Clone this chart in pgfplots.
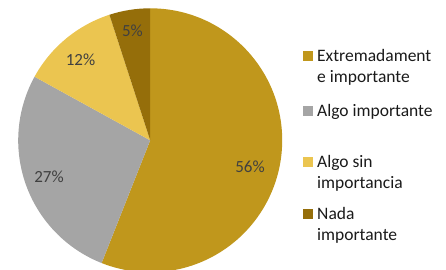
\documentclass[border=0pt]{standalone}
\usepackage{pgfplots}
\pgfplotsset{compat=1.18}
\usepackage{pgfplotstable}
\usepackage{fontspec}
\setmainfont{Carlito}
\definecolor{cGold}{HTML}{C0971C}
\definecolor{cGrey}{HTML}{A5A5A5}
\definecolor{cYellow}{HTML}{EBC550}
\definecolor{cDark}{HTML}{956E0A}
\definecolor{lblText}{HTML}{404040}
\definecolor{legText}{HTML}{1A1A1A}
\pgfplotstableread{
cat value
1 56
2 27
3 12
4 5
}\piedata
\begin{document}
\begin{tikzpicture}
\pgfplotstablegetelem{0}{value}\of\piedata\pgfmathsetmacro\vA{\pgfplotsretval}
\pgfplotstablegetelem{1}{value}\of\piedata\pgfmathsetmacro\vB{\pgfplotsretval}
\pgfplotstablegetelem{2}{value}\of\piedata\pgfmathsetmacro\vC{\pgfplotsretval}
\pgfplotstablegetelem{3}{value}\of\piedata\pgfmathsetmacro\vD{\pgfplotsretval}
\pgfmathsetmacro\aO{90}
\pgfmathsetmacro\aA{90-3.6*\vA}
\pgfmathsetmacro\aB{\aA-3.6*\vB}
\pgfmathsetmacro\aC{\aB-3.6*\vC}
\pgfmathsetmacro\aD{\aC-3.6*\vD}
\begin{axis}[at={(0,0)},anchor=south west,width=446pt,height=269pt,scale only axis,
  xmin=0,xmax=446,ymin=0,ymax=269,hide axis,clip=true]
\fill[cGold] (axis cs:150.2,128.7) -- ++(\aO:132pt) arc[start angle=\aO,end angle=\aA,radius=132pt] -- cycle;
\fill[cGrey] (axis cs:150.2,128.7) -- ++(\aA:132pt) arc[start angle=\aA,end angle=\aB,radius=132pt] -- cycle;
\fill[cYellow] (axis cs:150.2,128.7) -- ++(\aB:132pt) arc[start angle=\aB,end angle=\aC,radius=132pt] -- cycle;
\fill[cDark] (axis cs:150.2,128.7) -- ++(\aC:132pt) arc[start angle=\aC,end angle=\aD,radius=132pt] -- cycle;
\begin{scope}[every node/.style={font=\fontsize{17}{20}\selectfont,text=lblText,inner sep=0pt}]
\node at (axis cs:250,102) {56\%};
\node at (axis cs:49,92.3) {27\%};
\node at (axis cs:80.5,209) {12\%};
\node at (axis cs:132.5,238.3) {5\%};
\end{scope}
\begin{scope}[every node/.style={font=\fontsize{17.5}{21}\selectfont,text=legText,inner sep=0pt,anchor=base west}]
\fill[cGold] (axis cs:303,208) rectangle (axis cs:313,218);
\node at (axis cs:317,208) {Extremadament};
\node at (axis cs:317,186.5) {e importante};
\fill[cGrey] (axis cs:303,153) rectangle (axis cs:313,163);
\node at (axis cs:317,153) {Algo importante};
\fill[cYellow] (axis cs:303,102) rectangle (axis cs:313,112);
\node at (axis cs:317,102) {Algo sin};
\node at (axis cs:317,80.5) {importancia};
\fill[cDark] (axis cs:303,50) rectangle (axis cs:313,60);
\node at (axis cs:317,50) {Nada};
\node at (axis cs:317,28.5) {importante};
\end{scope}
\end{axis}
\pgfresetboundingbox
\useasboundingbox (current axis.south west) rectangle (current axis.north east);
\end{tikzpicture}
\end{document}
